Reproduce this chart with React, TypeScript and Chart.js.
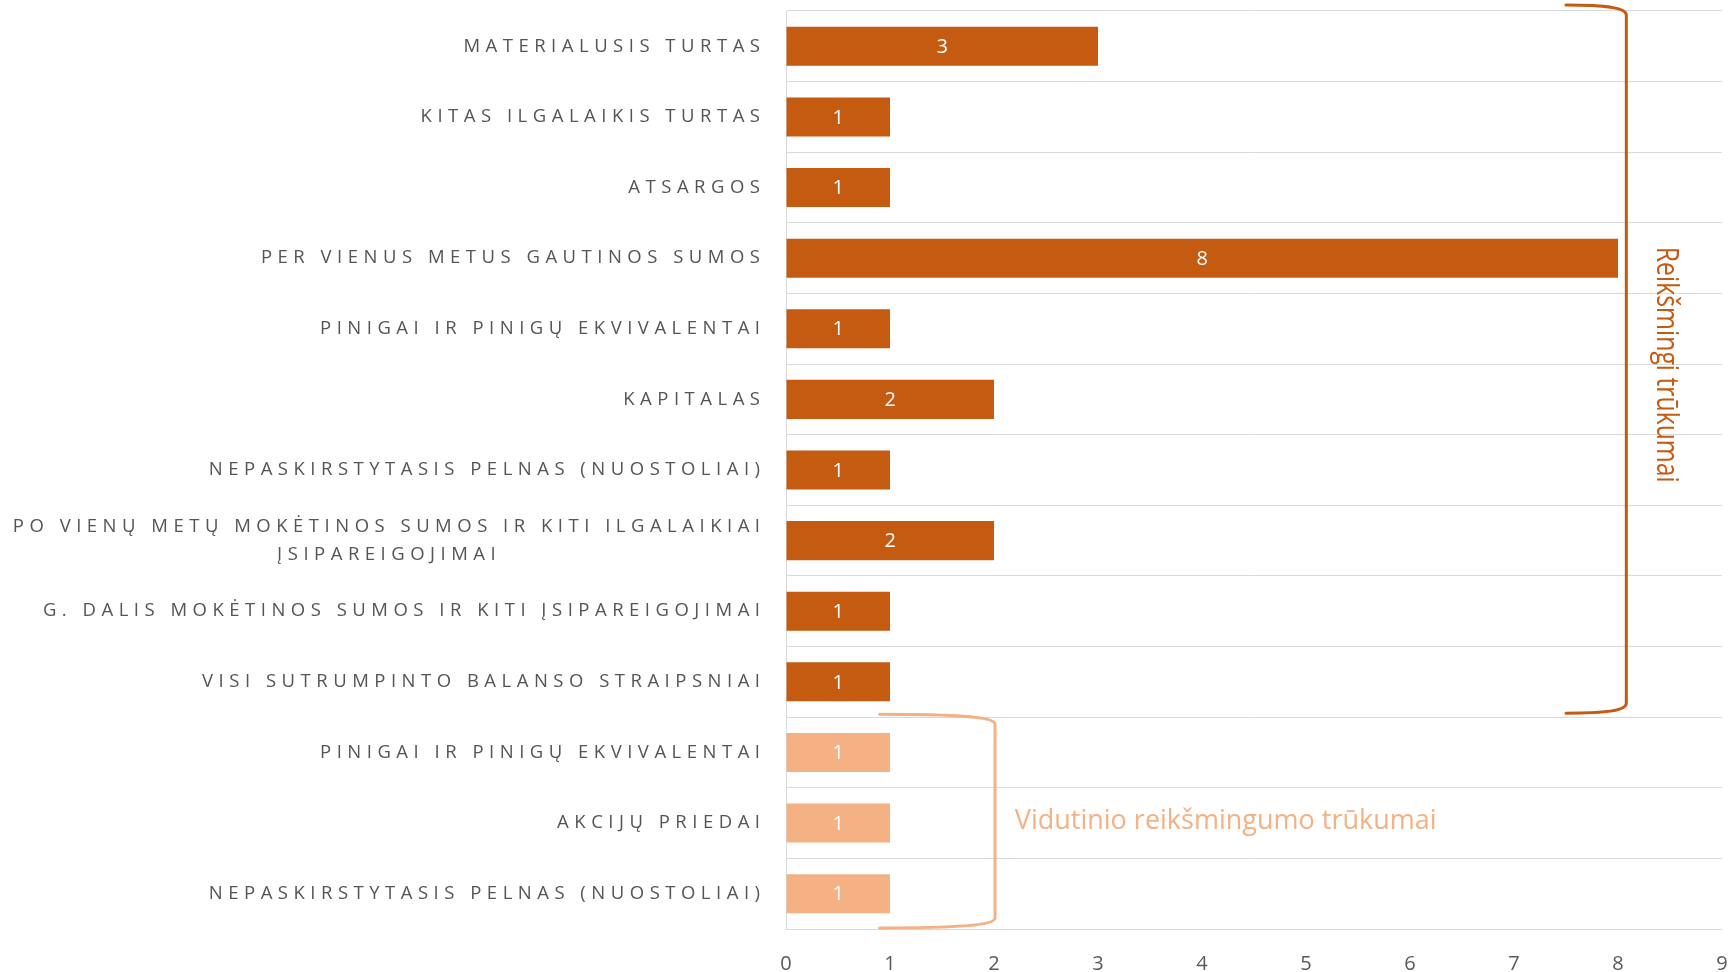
import React, { useEffect, useRef } from 'react';
import { Chart, registerables } from 'chart.js';

Chart.register(...registerables);

// ---- data ----
const categories: string[][] = [
  ['MATERIALUSIS TURTAS'],
  ['KITAS ILGALAIKIS TURTAS'],
  ['ATSARGOS'],
  ['PER VIENUS METUS GAUTINOS SUMOS'],
  ['PINIGAI IR PINIGŲ EKVIVALENTAI'],
  ['KAPITALAS'],
  ['NEPASKIRSTYTASIS PELNAS (NUOSTOLIAI)'],
  ['PO VIENŲ METŲ MOKĖTINOS SUMOS IR KITI ILGALAIKIAI', 'ĮSIPAREIGOJIMAI'],
  ['G. DALIS MOKĖTINOS SUMOS IR KITI ĮSIPAREIGOJIMAI'],
  ['VISI SUTRUMPINTO BALANSO STRAIPSNIAI'],
  ['PINIGAI IR PINIGŲ EKVIVALENTAI'],
  ['AKCIJŲ PRIEDAI'],
  ['NEPASKIRSTYTASIS PELNAS (NUOSTOLIAI)'],
];
const values = [3, 1, 1, 8, 1, 2, 1, 2, 1, 1, 1, 1, 1];
const severity = [0, 0, 0, 0, 0, 0, 0, 0, 0, 0, 1, 1, 1];
const groupNames = ['Reikšmingi trūkumai', 'Vidutinio reikšmingumo trūkumai'];
const groupColors = ['#C55A11', '#F4B183'];
const groupFirst = [0, 10];
const groupLast = [9, 12];
const bracketLineX = [8.08, 2.01];
const bracketTipX = [7.5, 0.9];
const xMin = 0;
const xMax = 9;

const LABEL_SPACING = 5.5;

const annotPlugin = {
  id: 'annot',
  afterDatasetsDraw(chart: any) {
    const { ctx } = chart;
    const meta = chart.getDatasetMeta(0);
    ctx.save();
    ctx.font = '20px "Open Sans"';
    ctx.fillStyle = '#FFFFFF';
    ctx.textAlign = 'center';
    ctx.textBaseline = 'middle';
    meta.data.forEach((bar: any, i: number) => {
      const p = bar.getProps(['x', 'y', 'base'], true);
      ctx.fillText(String(values[i]), (p.x + p.base) / 2, p.y + 1);
    });
    ctx.restore();
  },
  afterDraw(chart: any) {
    const { ctx, chartArea } = chart;
    const x = chart.scales.x;
    const y = chart.scales.y;
    const half = (y.getPixelForValue(1) - y.getPixelForValue(0)) / 2;

    // category labels with letter spacing
    ctx.save();
    ctx.font = '18.5px "Open Sans"';
    ctx.fillStyle = '#555555';
    (ctx as any).letterSpacing = LABEL_SPACING + 'px';
    ctx.textBaseline = 'middle';
    ctx.textAlign = 'left';
    const rightX = chartArea.left - 26;
    const lineH = 28;
    categories.forEach((lines, i) => {
      const cy = y.getPixelForValue(i);
      const widths = lines.map((l) => ctx.measureText(l).width - LABEL_SPACING);
      const blockW = Math.max(...widths);
      lines.forEach((l, j) => {
        const ly = cy + (j - (lines.length - 1) / 2) * lineH;
        const lx = rightX - blockW / 2 - widths[j] / 2;
        ctx.fillText(l, lx, ly);
      });
    });
    ctx.restore();

    // brackets
    const topOff = [-6, -3];
    const botOff = [-4, -1];
    groupNames.forEach((_, g) => {
      const cx = x.getPixelForValue(bracketLineX[g]);
      const tx = x.getPixelForValue(bracketTipX[g]);
      const yt = y.getPixelForValue(groupFirst[g]) - half + topOff[g];
      const yb = y.getPixelForValue(groupLast[g]) + half + botOff[g];
      const arm = cx - tx;
      ctx.save();
      ctx.strokeStyle = groupColors[g];
      ctx.lineWidth = 3;
      ctx.lineCap = 'round';
      ctx.lineJoin = 'round';
      ctx.beginPath();
      ctx.moveTo(tx, yt);
      ctx.bezierCurveTo(tx + arm * 0.7, yt, cx, yt + 3, cx, yt + 10);
      ctx.lineTo(cx, yb - 10);
      ctx.bezierCurveTo(cx, yb - 3, tx + arm * 0.7, yb, tx, yb);
      ctx.stroke();
      ctx.restore();
    });

    // group titles
    ctx.save();
    ctx.fillStyle = groupColors[0];
    ctx.font = '31px "Open Sans"';
    ctx.textAlign = 'center';
    ctx.textBaseline = 'middle';
    const rx = x.getPixelForValue(8.46);
    const ry = y.getPixelForValue(4.51);
    const w0 = ctx.measureText(groupNames[0]).width;
    ctx.translate(rx, ry);
    ctx.rotate(Math.PI / 2);
    ctx.scale(236 / w0, 1);
    ctx.fillText(groupNames[0], 0, 0);
    ctx.restore();

    ctx.save();
    ctx.fillStyle = groupColors[1];
    ctx.font = '27px "Open Sans"';
    ctx.textAlign = 'left';
    ctx.textBaseline = 'middle';
    ctx.fillText(groupNames[1], x.getPixelForValue(2.2), y.getPixelForValue(11) - 2);
    ctx.restore();
  },
};

export default function App() {
  const ref = useRef<HTMLCanvasElement>(null);
  useEffect(() => {
    if (!ref.current) return;
    const chart = new Chart(ref.current, {
      type: 'bar',
      data: {
        labels: categories.map((c) => c.join(' ')),
        datasets: [
          {
            data: values,
            backgroundColor: severity.map((s) => groupColors[s]),
            barPercentage: 0.553,
            categoryPercentage: 1,
          },
        ],
      },
      options: {
        indexAxis: 'y',
        animation: false,
        responsive: false,
        maintainAspectRatio: false,
        layout: { padding: { top: 11, right: 14, left: 0, bottom: 0 } },
        plugins: { legend: { display: false }, tooltip: { enabled: false } },
        scales: {
          x: {
            type: 'linear',
            min: xMin,
            max: xMax,
            ticks: {
              stepSize: 1,
              color: '#595959',
              font: { family: '"Open Sans"', size: 20 },
              padding: 5,
            },
            grid: {
              display: true,
              drawOnChartArea: false,
              drawTicks: true,
              tickLength: 18,
              tickColor: 'rgba(0,0,0,0)',
            },
            border: { display: false },
            afterFit: (s: any) => {
              s.height = 43;
            },
          },
          y: {
            type: 'category',
            ticks: { display: false },
            grid: { color: '#D9D9D9', drawTicks: false, offset: true, lineWidth: 1 },
            border: { display: true, color: '#D9D9D9' },
            afterFit: (s: any) => {
              s.width = 786;
            },
          },
        },
      },
      plugins: [annotPlugin],
    });
    return () => chart.destroy();
  }, []);
  return (
    <div style={{ position: 'absolute', left: 0, top: 0, width: 1736, height: 972, background: '#fff' }}>
      <canvas ref={ref} width={1736} height={972} />
    </div>
  );
}
